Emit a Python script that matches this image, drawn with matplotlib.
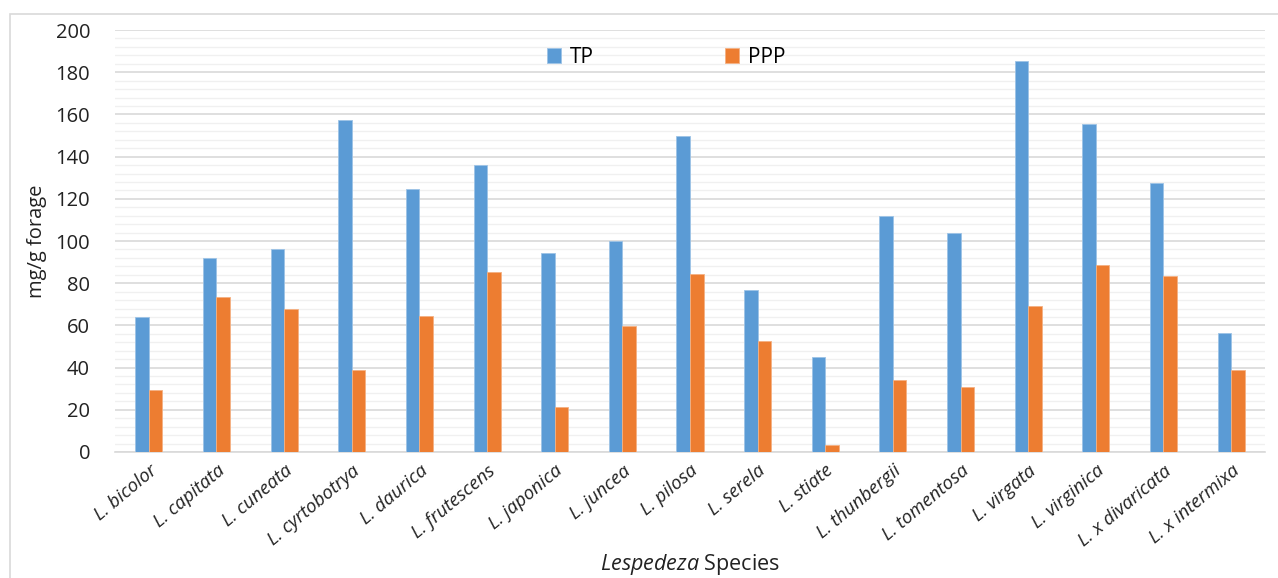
import matplotlib.pyplot as plt
import numpy as np
from matplotlib.patches import Rectangle

rusys = ['L. bicolor', 'L. capitata', 'L. cuneata', 'L. cyrtobotrya', 'L. daurica',
         'L. frutescens', 'L. japonica', 'L. juncea', 'L. pilosa', 'L. serela',
         'L. stiate', 'L. thunbergii', 'L. tomentosa', 'L. virgata', 'L. virginica',
         'L. x divaricata', 'L. x intermixa']
tp = [64, 92, 96, 157.5, 124.5, 136, 94.5, 100, 150, 77, 45, 112, 104, 185.5, 155.5, 127.5, 56.5]
ppp = [29.5, 73.5, 68, 39, 64.6, 85.5, 21.5, 59.5, 84.3, 52.4, 3.3, 34, 30.8, 69.2, 88.6, 83.4, 39]

plt.rcParams['font.family'] = ['Open Sans', 'DejaVu Sans']
plt.rcParams['mathtext.fontset'] = 'custom'
plt.rcParams['mathtext.rm'] = 'Open Sans'
plt.rcParams['mathtext.it'] = 'Open Sans:italic'

fig = plt.figure(figsize=(12.78, 5.78), dpi=100)
ax = fig.add_axes([0.09, 0.218, 0.8998, 0.73])

# remelis aplink paveiksla
fig.patches.append(Rectangle((10 / 1278, -0.05), 1.1, 1 - 14 / 578 + 0.05,
                             transform=fig.transFigure, fill=False,
                             edgecolor='#d9d9d9', linewidth=1.2))

x = np.arange(len(rusys))
w = 0.2
ax.bar(x - w / 2, tp, w, color='#5B9BD5', edgecolor='#9DC3E6', linewidth=0.6, label='TP', zorder=3)
ax.bar(x + w / 2, ppp, w, color='#ED7D31', edgecolor='#F4B183', linewidth=0.6, label='PPP', zorder=3)

ax.set_xlim(-0.5, len(rusys) - 0.5)
ax.set_ylim(0, 200)
ax.set_yticks(np.arange(0, 201, 20))
ax.set_yticks(np.arange(0, 201, 4), minor=True)
ax.yaxis.grid(True, which='major', color='#d9d9d9', linewidth=1.2, zorder=0)
ax.yaxis.grid(True, which='minor', color='#f0f0f0', linewidth=1.0, zorder=0)
ax.set_axisbelow(True)

for s in ['top', 'right', 'left']:
    ax.spines[s].set_visible(False)
ax.spines['bottom'].set_color('#d9d9d9')
ax.spines['bottom'].set_linewidth(1.2)
ax.tick_params(axis='both', which='both', length=0)
ax.tick_params(axis='y', labelsize=14.5, pad=18, labelcolor='#222222')

ax.set_xticks(x)
ax.set_xticklabels(rusys, rotation=40, ha='right', rotation_mode='anchor',
                   fontsize=13.5, style='italic', color='#222222')
ax.tick_params(axis='x', pad=7)

ax.set_ylabel('mg/g forage', fontsize=14.5, color='#222222', labelpad=6)
fig.text(690 / 1278, 0.002, r'$\mathit{Lespedeza}$ Species', fontsize=15.5, color='#222222',
         ha='center', va='bottom')

ax.legend(loc='center', bbox_to_anchor=(0.479, 0.936), ncol=2, frameon=False,
          fontsize=15, columnspacing=6.3, handlelength=0.7, handleheight=0.7,
          handletextpad=0.4)

plt.savefig('out.png', dpi=100)
